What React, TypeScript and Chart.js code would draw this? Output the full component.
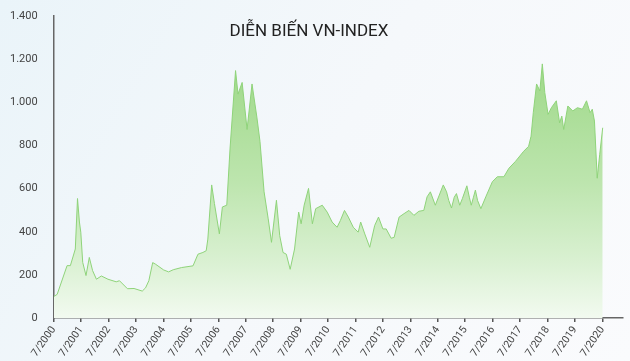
import React, { useEffect, useRef } from "react";
import { Chart, registerables } from "chart.js";

Chart.register(...registerables);

const TITLE = "DIỄN BIẾN VN-INDEX";

// Decimal year of each point (7/2000 = 2000.5)
const dates = [
  2000.51, 2000.63, 2000.99, 2001.11, 2001.29, 2001.37, 2001.44, 2001.49, 2001.56, 2001.68,
  2001.8, 2001.92, 2002.06, 2002.24, 2002.48, 2002.78, 2002.9, 2003.19, 2003.43, 2003.73,
  2003.85, 2003.97, 2004.11, 2004.21, 2004.51, 2004.69, 2004.86, 2005.16, 2005.58, 2005.76,
  2005.94, 2006.06, 2006.12, 2006.26, 2006.36, 2006.54, 2006.65, 2006.81, 2006.93, 2007.13,
  2007.22, 2007.37, 2007.55, 2007.73, 2007.91, 2008.02, 2008.17, 2008.32, 2008.44, 2008.62,
  2008.74, 2008.86, 2008.98, 2009.12, 2009.28, 2009.43, 2009.52, 2009.63, 2009.79, 2009.93,
  2010.05, 2010.29, 2010.47, 2010.65, 2010.83, 2010.95, 2011.1, 2011.24, 2011.42, 2011.6,
  2011.69, 2011.84, 2012.02, 2012.2, 2012.34, 2012.5, 2012.62, 2012.8, 2012.91, 2013.09,
  2013.27, 2013.45, 2013.63, 2013.81, 2013.99, 2014.11, 2014.23, 2014.41, 2014.7, 2014.82,
  2014.9, 2015.0, 2015.1, 2015.18, 2015.3, 2015.4, 2015.56, 2015.65, 2015.72, 2015.8,
  2015.87, 2015.95, 2016.07, 2016.25, 2016.49, 2016.67,
  2016.91, 2017.09, 2017.33, 2017.63, 2017.81, 2017.9, 2017.98, 2018.1, 2018.22, 2018.31,
  2018.4, 2018.52, 2018.64, 2018.82, 2018.94, 2019.02, 2019.09, 2019.24, 2019.42, 2019.59,
  2019.77, 2019.92, 2020.05, 2020.13, 2020.21, 2020.31, 2020.4, 2020.51,
];

// VN-Index values
const values = [
  100, 110, 243, 243, 320, 554, 445, 398, 258, 197,
  281, 220, 180, 195, 180, 168, 173, 136, 137, 125,
  140, 173, 257, 250, 223, 214, 224, 234, 242, 296,
  304, 312, 366, 617, 531, 390, 515, 523, 788, 1147,
  1038, 1092, 874, 1085, 928, 819, 585, 460, 351, 546,
  382, 304, 296, 226, 320, 491, 437, 523, 601, 437,
  507, 523, 491, 445, 421, 452, 499, 468, 421, 398,
  445, 390, 328, 429, 468, 413, 413, 370, 374, 468,
  484, 499, 476, 495, 499, 562, 585, 523, 617, 585,
  545, 510, 560, 577, 523, 555, 613, 560, 523, 560,
  593, 545, 507, 562, 632, 655,
  655, 694, 726, 773, 796, 843, 952, 1085, 1053, 1178,
  1045, 944, 975, 1007, 905, 936, 874, 983, 960, 975,
  968, 1007, 952, 968, 913, 648, 757, 882,
];

const xTickYears = [
  2000, 2001, 2002, 2003, 2004, 2005, 2006, 2007, 2008, 2009, 2010,
  2011, 2012, 2013, 2014, 2015, 2016, 2017, 2018, 2019, 2020,
];
const yTicks = [0, 200, 400, 600, 800, 1000, 1200, 1400];

function fmtThousands(v: number): string {
  return String(Math.round(v)).replace(/\B(?=(\d{3})+(?!\d))/g, ".");
}

const bgPlugin = {
  id: "bgPlugin",
  beforeDraw(chart: any) {
    const { ctx, width, height } = chart;
    const g = ctx.createLinearGradient(0, 0, width, height);
    g.addColorStop(0, "#eaf4f9");
    g.addColorStop(0.5, "#f5f8fb");
    g.addColorStop(1, "#fafbfd");
    ctx.save();
    ctx.fillStyle = g;
    ctx.fillRect(0, 0, width, height);
    ctx.restore();
  },
};

const titlePlugin = {
  id: "titlePlugin",
  afterDraw(chart: any) {
    const { ctx } = chart;
    ctx.save();
    ctx.font = "17px Roboto, 'Noto Sans', sans-serif";
    ctx.fillStyle = "#222";
    ctx.textAlign = "center";
    ctx.textBaseline = "middle";
    ctx.fillText(TITLE, 309, 32);
    ctx.restore();
  },
};

export default function App() {
  const ref = useRef<HTMLCanvasElement | null>(null);

  useEffect(() => {
    document.body.style.margin = "0";
    const canvas = ref.current;
    if (!canvas) return;
    const chart = new Chart(canvas, {
      type: "line",
      data: {
        datasets: [
          {
            data: dates.map((d, i) => ({ x: d, y: values[i] })),
            borderColor: "#8fd37a",
            borderWidth: 1,
            pointRadius: 0,
            tension: 0,
            fill: "origin",
            backgroundColor: (c: any) => {
              const area = c.chart.chartArea;
              if (!area) return "#b5e2a3";
              const g = c.chart.ctx.createLinearGradient(0, area.top, 0, area.bottom);
              g.addColorStop(0, "#92d47c");
              g.addColorStop(0.2, "#a2da8d");
              g.addColorStop(0.55, "#bde5ae");
              g.addColorStop(0.8, "#d8f0d0");
              g.addColorStop(1, "#f2faf0");
              return g;
            },
          },
        ],
      },
      options: {
        animation: false,
        responsive: false,
        maintainAspectRatio: false,
        layout: { padding: { top: 16, right: 7, left: 2, bottom: 0 } },
        plugins: {
          legend: { display: false },
          title: { display: false },
          tooltip: { enabled: false },
        },
        scales: {
          x: {
            type: "linear",
            min: 2000.5,
            max: 2021.25,
            afterBuildTicks: (scale: any) => {
              scale.ticks = xTickYears.map((y) => ({ value: y + 0.5 }));
            },
            grid: {
              display: true,
              drawOnChartArea: false,
              drawTicks: true,
              tickLength: 4,
              color: "#555",
              lineWidth: 1.5,
            },
            border: { display: true, color: "#666", width: 1.5 },
            ticks: {
              autoSkip: false,
              minRotation: 55,
              maxRotation: 55,
              padding: 2,
              color: "#444",
              font: { size: 10.5, family: "Roboto, 'Noto Sans', sans-serif" },
              callback: (v: any) => "7/" + Math.floor(Number(v)),
            },
          },
          y: {
            min: 0,
            max: 1400,
            afterBuildTicks: (scale: any) => {
              scale.ticks = yTicks.map((v) => ({ value: v }));
            },
            grid: { display: false },
            border: { display: true, color: "#666", width: 1.5 },
            ticks: {
              padding: 8,
              color: "#444",
              font: { size: 11, family: "Roboto, 'Noto Sans', sans-serif" },
              callback: (v: any) => fmtThousands(Number(v)),
            },
          },
        },
      },
      plugins: [bgPlugin, titlePlugin],
    });
    return () => chart.destroy();
  }, []);

  return (
    <div style={{ width: 630, height: 361 }}>
      <canvas ref={ref} width={630} height={361} style={{ display: "block" }} />
    </div>
  );
}
